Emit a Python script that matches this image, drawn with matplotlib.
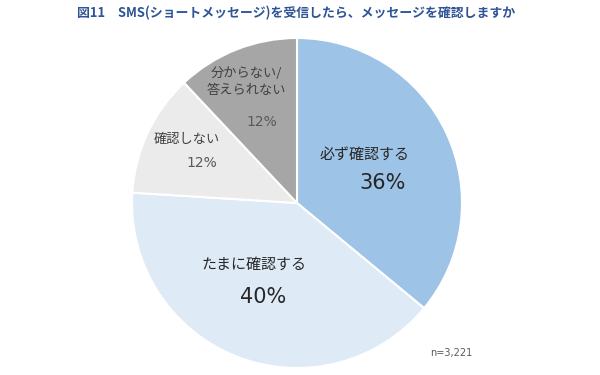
import numpy as np
import matplotlib
matplotlib.use('Agg')
from matplotlib import pyplot as plt

plt.rcParams['font.family'] = ['Noto Sans CJK JP', 'DejaVu Sans']

title = '図11　SMS(ショートメッセージ)を受信したら、メッセージを確認しますか'
labels = ['必ず確認する', 'たまに確認する', '確認しない', '分からない/\n答えられない']
values = [36, 40, 12, 12]
colors = ['#9dc3e6', '#deebf7', '#ebebeb', '#a6a6a6']
note = 'n=3,221'

# text positions inside the pie (data coords, radius 1)
label_xy = [(0.412, 0.291), (-0.261, -0.376), (-0.667, 0.382), (-0.309, 0.733)]
pct_xy = [(0.521, 0.121), (-0.206, -0.570), (-0.576, 0.242), (-0.212, 0.491)]
label_size = [10.8, 10.8, 9.5, 9.5]
pct_size = [15, 15, 10, 10]
label_color = ['#262626', '#262626', '#404040', '#404040']
pct_color = ['#262626', '#262626', '#595959', '#595959']

fig = plt.figure(figsize=(6, 3.75), dpi=100)
ax = fig.add_axes([132/600, 7/375, 330/600, 330/375])
wedges, _ = ax.pie(values, colors=colors, startangle=90, counterclock=False,
                   radius=1, wedgeprops=dict(edgecolor='white', linewidth=1.5))
ax.set_xlim(-1, 1)
ax.set_ylim(-1, 1)
ax.set_aspect('equal')

for i in range(len(values)):
    ax.text(*label_xy[i], labels[i], ha='center', va='center',
            fontsize=label_size[i], color=label_color[i], linespacing=1.35)
    ax.text(*pct_xy[i], f'{values[i]}%', ha='center', va='center',
            fontsize=pct_size[i], color=pct_color[i], family='DejaVu Sans')

fig.text(77/600, 1 - 13/375, title, fontsize=9.3, fontweight='bold',
         color='#2f5597', va='center', ha='left')
fig.text(430/600, 1 - 353/375, note, fontsize=7, color='#595959',
         va='center', ha='left', family='DejaVu Sans')

fig.savefig('out.png', dpi=100)
